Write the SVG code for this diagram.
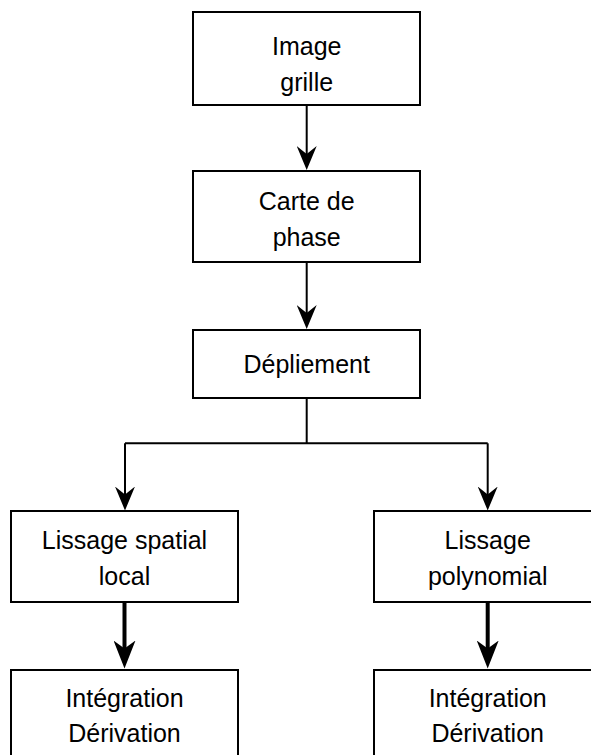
<svg xmlns="http://www.w3.org/2000/svg" width="591" height="755" viewBox="0 0 591 755">
  <style>
    .box { fill: #ffffff; stroke: #000000; stroke-width: 2; }
    .lbl { font-family: "Liberation Sans", Arial, sans-serif; font-size: 25px; fill: #000000; text-anchor: middle; }
    .wire { fill: none; stroke: #000000; stroke-width: 2; }
    .wire-bold { fill: none; stroke: #000000; stroke-width: 4; }
  </style>
  <defs>
    <marker id="arrow" viewBox="0 0 24 20" markerWidth="24" markerHeight="20" refX="16" refY="10" orient="auto" markerUnits="userSpaceOnUse">
      <path d="M0,0 L24,10 L0,20 L8,10 Z" fill="#000000"/>
    </marker>
    <marker id="arrow-bold" viewBox="0 0 28 22" markerWidth="28" markerHeight="22" refX="20" refY="11" orient="auto" markerUnits="userSpaceOnUse">
      <path d="M0,0 L28,11 L0,22 L8,11 Z" fill="#000000"/>
    </marker>
  </defs>

  <g id="connectors">
    <path class="wire" d="M306.7,105 V162" marker-end="url(#arrow)"/>
    <path class="wire" d="M306.7,262 V321" marker-end="url(#arrow)"/>
    <path class="wire" d="M306.7,398 V443.3"/>
    <path class="wire" d="M125,443.3 H487.7"/>
    <path class="wire" d="M125,443.3 V502.5" marker-end="url(#arrow)"/>
    <path class="wire" d="M487.7,443.3 V502.5" marker-end="url(#arrow)"/>
    <path class="wire-bold" d="M124.5,602 V660.5" marker-end="url(#arrow-bold)"/>
    <path class="wire-bold" d="M487.7,602 V660.5" marker-end="url(#arrow-bold)"/>
  </g>

  <g id="image-grille">
    <rect class="box" x="193" y="12" width="227" height="93"/>
    <text class="lbl" x="306.7" y="55">Image</text>
    <text class="lbl" x="306.7" y="91">grille</text>
  </g>

  <g id="carte-phase">
    <rect class="box" x="193" y="171" width="227" height="91"/>
    <text class="lbl" x="306.7" y="210">Carte de</text>
    <text class="lbl" x="306.7" y="246">phase</text>
  </g>

  <g id="depliement">
    <rect class="box" x="193" y="330" width="227" height="68"/>
    <text class="lbl" x="306.7" y="373">Dépliement</text>
  </g>

  <g id="lissage-spatial">
    <rect class="box" x="11" y="511" width="227" height="91"/>
    <text class="lbl" x="124.5" y="549">Lissage spatial</text>
    <text class="lbl" x="124.5" y="585">local</text>
  </g>

  <g id="lissage-polynomial">
    <rect class="box" x="374" y="511" width="227" height="91"/>
    <text class="lbl" x="487.7" y="549">Lissage</text>
    <text class="lbl" x="487.7" y="585">polynomial</text>
  </g>

  <g id="integration-gauche">
    <rect class="box" x="11" y="670" width="227" height="100"/>
    <text class="lbl" x="124.5" y="707">Intégration</text>
    <text class="lbl" x="124.5" y="742">Dérivation</text>
  </g>

  <g id="integration-droite">
    <rect class="box" x="374" y="670" width="227" height="100"/>
    <text class="lbl" x="487.7" y="707">Intégration</text>
    <text class="lbl" x="487.7" y="742">Dérivation</text>
  </g>
</svg>
